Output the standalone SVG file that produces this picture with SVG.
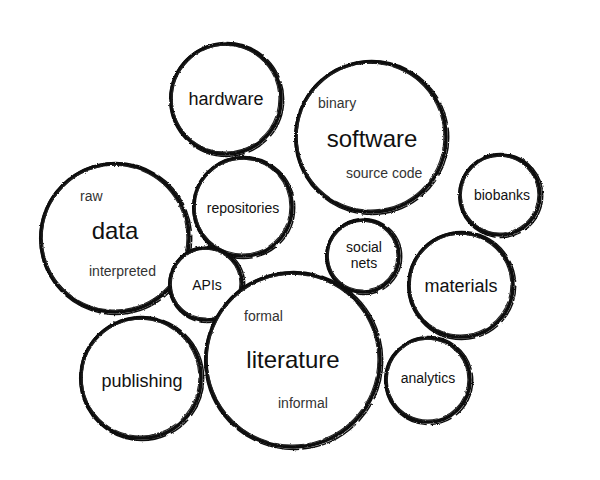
<svg xmlns="http://www.w3.org/2000/svg" width="600" height="480" viewBox="0 0 600 480">
<defs>
<filter id="rough" x="-10%" y="-10%" width="120%" height="120%">
<feTurbulence type="fractalNoise" baseFrequency="0.9" numOctaves="2" seed="3" result="n"/>
<feDisplacementMap in="SourceGraphic" in2="n" scale="2.2" xChannelSelector="R" yChannelSelector="G"/>
</filter>
</defs>
<style>
.b1{fill:#fff;stroke:#111;stroke-width:3.6}
.b2{fill:none;stroke:#111;stroke-width:1.5;stroke-dasharray:40 5 22 4 60 3}
.b3{fill:none;stroke:#222;stroke-width:1.1;stroke-dasharray:14 3 30 6 50 2}
.ring{filter:url(#rough)}
text{font-family:"Liberation Sans",Arial,Helvetica,sans-serif;fill:#111}
.L{font-size:24px}
.M{font-size:18px}
.S{font-size:14px}
.s{font-size:14px;fill:#333}
.c{text-anchor:middle}
</style>
<rect width="600" height="480" fill="#fff"/>
<g id="connectors"></g>

<g id="hardware">
<g class="ring"><circle class="b1" cx="226" cy="99" r="55"/><circle class="b2" cx="226.7" cy="99.5" r="57"/><circle class="b3" cx="225.5" cy="98.7" r="53.4"/></g>
<text class="M c" x="226" y="105">hardware</text>
</g>

<g id="software">
<g class="ring"><circle class="b1" cx="371" cy="137" r="75"/><circle class="b2" cx="371.7" cy="137.5" r="77"/><circle class="b3" cx="370.5" cy="136.7" r="73.4"/></g>
<text class="s" x="318" y="108">binary</text>
<text class="L c" x="372" y="147">software</text>
<text class="s" x="346" y="178">source code</text>
</g>

<g id="repositories">
<g class="ring"><circle class="b1" cx="243" cy="207" r="49"/><circle class="b2" cx="243.7" cy="207.5" r="51"/><circle class="b3" cx="242.5" cy="206.7" r="47.4"/></g>
<text class="S c" x="243" y="213">repositories</text>
</g>

<g id="data">
<g class="ring"><circle class="b1" cx="115" cy="238" r="74"/><circle class="b2" cx="115.7" cy="238.5" r="76"/><circle class="b3" cx="114.5" cy="237.7" r="72.4"/></g>
<text class="s" x="80" y="201">raw</text>
<text class="L c" x="115" y="239">data</text>
<text class="s" x="89" y="276">interpreted</text>
</g>

<g id="apis">
<g class="ring"><circle class="b1" cx="206" cy="284" r="36"/><circle class="b2" cx="206.7" cy="284.5" r="38"/><circle class="b3" cx="205.5" cy="283.7" r="34.4"/></g>
<text class="S c" x="207" y="290">APIs</text>
</g>

<g id="literature">
<g class="ring"><circle class="b1" cx="293" cy="360" r="87"/><circle class="b2" cx="293.7" cy="360.5" r="89"/><circle class="b3" cx="292.5" cy="359.7" r="85.4"/></g>
<text class="s" x="244" y="321">formal</text>
<text class="L c" x="293" y="368">literature</text>
<text class="s" x="278" y="408">informal</text>
</g>

<g id="publishing">
<g class="ring"><circle class="b1" cx="141" cy="378" r="60"/><circle class="b2" cx="141.7" cy="378.5" r="62"/><circle class="b3" cx="140.5" cy="377.7" r="58.4"/></g>
<text class="M c" x="142" y="387">publishing</text>
</g>

<g id="social-nets">
<g class="ring"><circle class="b1" cx="363" cy="256" r="36"/><circle class="b2" cx="363.7" cy="256.5" r="38"/><circle class="b3" cx="362.5" cy="255.7" r="34.4"/></g>
<text class="S c" x="364" y="252">social</text>
<text class="S c" x="364" y="268">nets</text>
</g>

<g id="biobanks">
<g class="ring"><circle class="b1" cx="500" cy="195" r="40"/><circle class="b2" cx="500.7" cy="195.5" r="42"/><circle class="b3" cx="499.5" cy="194.7" r="38.4"/></g>
<text class="S c" x="502" y="200">biobanks</text>
</g>

<g id="materials">
<g class="ring"><circle class="b1" cx="461" cy="285" r="52"/><circle class="b2" cx="461.7" cy="285.5" r="54"/><circle class="b3" cx="460.5" cy="284.7" r="50.4"/></g>
<text class="M c" x="461" y="292">materials</text>
</g>

<g id="analytics">
<g class="ring"><circle class="b1" cx="428" cy="380" r="42"/><circle class="b2" cx="428.7" cy="380.5" r="44"/><circle class="b3" cx="427.5" cy="379.7" r="40.4"/></g>
<text class="S c" x="428" y="383">analytics</text>
</g>
</svg>
